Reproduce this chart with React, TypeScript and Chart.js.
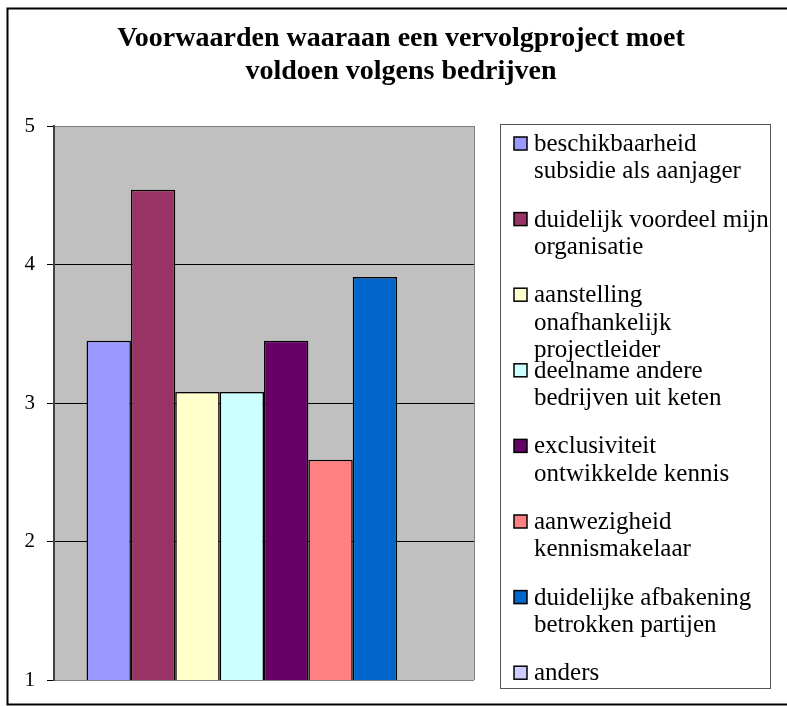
import { useEffect, useRef } from 'react';
import { Chart, registerables } from 'chart.js';

Chart.register(...registerables);

const titleLines = ['Voorwaarden waaraan een vervolgproject moet', 'voldoen volgens bedrijven'];
const categories = [''];
const seriesLegendLines: string[][] = [
  ['beschikbaarheid', 'subsidie als aanjager'],
  ['duidelijk voordeel mijn', 'organisatie'],
  ['aanstelling', 'onafhankelijk', 'projectleider'],
  ['deelname andere', 'bedrijven uit keten'],
  ['exclusiviteit', 'ontwikkelde kennis'],
  ['aanwezigheid', 'kennismakelaar'],
  ['duidelijke afbakening', 'betrokken partijen'],
  ['anders'],
];
const seriesValues: (number | null)[] = [3.45, 4.54, 3.08, 3.08, 3.45, 2.59, 3.91, null];
const seriesColors = ['#9999FF', '#993366', '#FFFFCC', '#CCFFFF', '#660066', '#FF8080', '#0066CC', '#CCCCFF'];
const yMin = 1;
const yMax = 5;
const yStep = 1;

const SERIF = '"Liberation Serif", "Times New Roman", serif';

const decorPlugin = {
  id: 'decor',
  beforeDraw(chart: any) {
    const { ctx, chartArea: a, width, height } = chart;
    ctx.save();
    ctx.fillStyle = '#ffffff';
    ctx.fillRect(0, 0, width, height);
    ctx.fillStyle = '#C0C0C0';
    ctx.fillRect(a.left, a.top, a.right - a.left, a.bottom - a.top);
    ctx.restore();
  },
  afterDraw(chart: any) {
    const { ctx, chartArea: a } = chart;
    ctx.save();
    // plot area right border
    ctx.strokeStyle = '#808080';
    ctx.lineWidth = 1;
    ctx.beginPath();
    ctx.moveTo(a.right + 0.5, a.top);
    ctx.lineTo(a.right + 0.5, a.bottom);
    ctx.stroke();

    // title
    ctx.fillStyle = '#000';
    ctx.font = 'bold 28px ' + SERIF;
    ctx.textAlign = 'center';
    ctx.textBaseline = 'alphabetic';
    ctx.fillText(titleLines[0], 401, 46);
    ctx.fillText(titleLines[1], 401, 79);

    // legend
    const lx = 500, ly = 124, lw = 270, lh = 564;
    ctx.fillStyle = '#ffffff';
    ctx.fillRect(lx, ly, lw, lh);
    ctx.strokeStyle = '#555';
    ctx.lineWidth = 1;
    ctx.strokeRect(lx + 0.5, ly + 0.5, lw, lh);
    ctx.font = '25px ' + SERIF;
    ctx.textAlign = 'left';
    const datasets = chart.data.datasets;
    for (let i = 0; i < datasets.length; i++) {
      const base = 151 + i * 75.6;
      const lines = seriesLegendLines[i];
      ctx.fillStyle = datasets[i].backgroundColor;
      ctx.fillRect(514, base - 14, 13, 13);
      ctx.strokeStyle = '#000';
      ctx.lineWidth = 1.5;
      ctx.strokeRect(514, base - 14, 13, 13);
      ctx.fillStyle = '#000';
      lines.forEach((t, j) => ctx.fillText(t, 534, base + j * 27.3));
    }

    // outer frame
    ctx.strokeStyle = '#000';
    ctx.lineWidth = 2;
    ctx.strokeRect(7.5, 8.5, 800, 696);
    ctx.restore();
  },
};

export default function App() {
  const ref = useRef<HTMLCanvasElement>(null);
  useEffect(() => {
    if (!ref.current) return;
    const chart = new Chart(ref.current, {
      type: 'bar',
      data: {
        labels: categories,
        datasets: seriesLegendLines.map((lines, i) => ({
          label: lines.join(' '),
          data: [seriesValues[i]],
          backgroundColor: seriesColors[i],
          borderColor: '#000',
          borderWidth: 1.5,
          categoryPercentage: 0.845,
          barPercentage: 1,
        })),
      },
      options: {
        responsive: false,
        animation: false,
        layout: { padding: { top: 126, right: 313, bottom: 26, left: 0 } },
        plugins: {
          legend: { display: false },
          title: { display: false },
          tooltip: { enabled: false },
        },
        scales: {
          x: { display: false, offset: true },
          y: {
            min: yMin,
            max: yMax,
            afterFit: (s: any) => {
              s.width = 54;
            },
            ticks: {
              stepSize: yStep,
              color: '#000',
              font: { family: SERIF, size: 21 },
              padding: 12,
            },
            grid: {
              color: (c: any) => (c.tick && (c.tick.value === yMin || c.tick.value === yMax) ? '#808080' : '#000'),
              tickColor: '#000',
              tickLength: 7,
              lineWidth: 1,
            },
            border: { color: '#404040', width: 2 },
          },
        },
      },
      plugins: [decorPlugin],
    });
    return () => chart.destroy();
  }, []);
  return (
    <div style={{ position: 'fixed', left: 0, top: 0, width: 787, height: 706 }}>
      <canvas ref={ref} width={787} height={706} style={{ width: 787, height: 706, display: 'block' }} />
    </div>
  );
}
